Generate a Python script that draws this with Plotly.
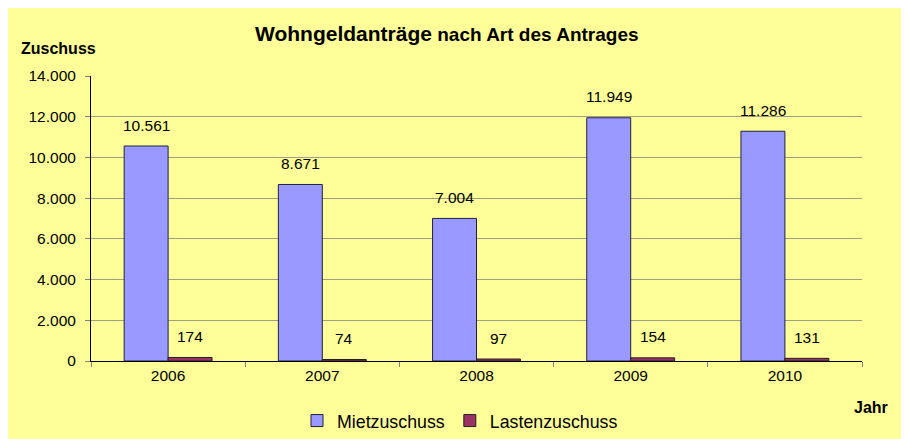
import plotly.graph_objects as go

years = ["2006", "2007", "2008", "2009", "2010"]
miete = [10561, 8671, 7004, 11949, 11286]
lasten = [174, 74, 97, 154, 131]
series_names = ["Mietzuschuss", "Lastenzuschuss"]
y_ticks = [0, 2000, 4000, 6000, 8000, 10000, 12000, 14000]

# page has an 8px body margin; figure fills the rest of the window
OFF = 8
W, H = 909 - OFF, 439 - OFF
L, R, T, B = 91 - OFF, 47, 76 - OFF, 78
pw, ph = W - L - R, H - T - B

def px_x(x):
    return (x - OFF - L) / pw

def px_y(y):
    return (H - B - (y - OFF)) / ph

def de(v):
    return f"{v:,}".replace(",", ".")

FONT = "Liberation Sans, Arial, sans-serif"
BARGAP = 0.43

fig = go.Figure()
fig.add_trace(go.Bar(x=years, y=miete, name=series_names[0],
                     marker=dict(color="#9999FF", line=dict(color="#202040", width=1))))
fig.add_trace(go.Bar(x=years, y=lasten, name=series_names[1],
                     marker=dict(color="#993366", line=dict(color="#202020", width=1))))

off = (1 - BARGAP) / 4
ann = []
for i, (m, l) in enumerate(zip(miete, lasten)):
    ann.append(dict(x=i - off, y=m, text=de(m), showarrow=False, yshift=21,
                    xref="x", yref="y", font=dict(size=15.5, color="black")))
    ann.append(dict(x=i + off, y=l, text=de(l), showarrow=False, yshift=21,
                    xref="x", yref="y", font=dict(size=15.5, color="black")))

ann.append(dict(xref="paper", yref="paper", x=px_x(447), y=px_y(34),
                xanchor="center", yanchor="middle", showarrow=False,
                text="<b><span style='font-size:21px'>Wohngeldanträge</span> nach Art des Antrages</b>",
                font=dict(size=19, color="black")))
ann.append(dict(xref="paper", yref="paper", x=px_x(58), y=px_y(48.5),
                xanchor="center", yanchor="middle", showarrow=False,
                text="<b>Zuschuss</b>", font=dict(size=16, color="black")))
ann.append(dict(xref="paper", yref="paper", x=px_x(871), y=px_y(407),
                xanchor="center", yanchor="middle", showarrow=False,
                text="<b>Jahr</b>", font=dict(size=16, color="black")))

fig.update_layout(
    width=W, height=H,
    margin=dict(l=L, r=R, t=T, b=B, autoexpand=False),
    paper_bgcolor="#FFFF99",
    plot_bgcolor="#FFFF99",
    font=dict(family=FONT, color="black", size=15.5),
    separators=",.",
    barmode="group", bargap=BARGAP, bargroupgap=0,
    showlegend=True,
    legend=dict(orientation="h", x=px_x(460), xanchor="center", y=px_y(421), yanchor="middle",
                font=dict(size=17.8), bgcolor="rgba(0,0,0,0)", itemwidth=30, tracegroupgap=0),
    annotations=ann,
    xaxis=dict(type="category", showline=True, linecolor="black", linewidth=1,
               ticks="outside", tickson="boundaries", ticklen=5, tickcolor="#808080",
               showgrid=False, tickfont=dict(size=15.5)),
    yaxis=dict(range=[0, 14000], tickvals=y_ticks, tickformat=",d",
               showline=True, linecolor="black", linewidth=1,
               ticks="outside", ticklen=5, tickcolor="#808080",
               showgrid=True, gridcolor="#A0A080", gridwidth=1,
               zeroline=False, tickfont=dict(size=15.5), ticklabelstandoff=6),
)

fig.write_html("out.html")
